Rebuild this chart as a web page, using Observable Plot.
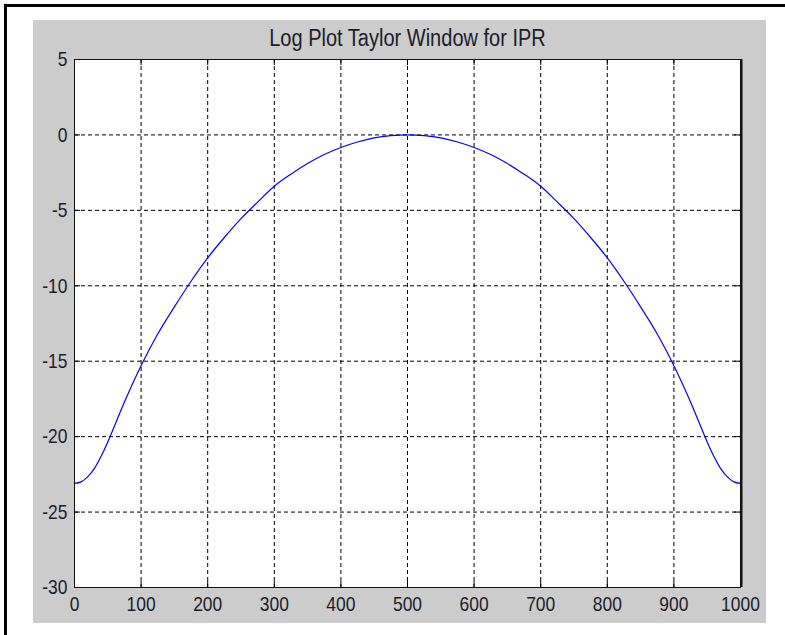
<!DOCTYPE html>
<html><head><meta charset="utf-8">
<script src="https://cdn.jsdelivr.net/npm/d3@7"></script>
<script src="https://cdn.jsdelivr.net/npm/@observablehq/plot@0.6"></script>
<style>
body{margin:0;background:#fff}
#wrap{position:relative;width:785px;height:635px;overflow:hidden;background:#fff}
#edge{position:absolute;left:4px;top:4px;right:0;bottom:0;border-left:3px solid #000;border-top:3px solid #000}
#panel{position:absolute;left:33px;top:20px;width:733px;height:603px;background:#cccccc}
#chart{position:absolute;left:0;top:0}
</style></head><body>
<div id="wrap"><div id="edge"></div><div id="panel"></div><div id="chart"></div></div>
<script>
const title = "Log Plot Taylor Window for IPR";
const xTicks = [0,100,200,300,400,500,600,700,800,900,1000];
const yTicks = [-30,-25,-20,-15,-10,-5,0,5];
const sampleX = [0,10,20,30,40,50,60,75,100,125,150,175,200,225,250,275,300,325,350,375,400,425,450,475,500,
  525,550,575,600,625,650,675,700,725,750,775,800,825,850,875,900,925,940,950,960,970,980,990,1000];
const sampleDb = [-23.1,-23.0,-22.65,-22.1,-21.3,-20.35,-19.3,-17.7,-15.3,-13.2,-11.4,-9.7,-8.15,-6.8,-5.55,-4.45,-3.4,-2.6,-1.9,-1.3,-0.83,-0.47,-0.2,-0.05,0,
  -0.05,-0.2,-0.47,-0.83,-1.3,-1.9,-2.6,-3.4,-4.45,-5.55,-6.8,-8.15,-9.7,-11.4,-13.2,-15.3,-17.7,-19.3,-20.35,-21.3,-22.1,-22.65,-23.0,-23.1];

const W = 785, H = 635, mL = 74, mR = 45, mT = 59, mB = 48;
const innerW = W - mL - mR, innerH = H - mT - mB;
const data = sampleX.map((x, i) => ({x, y: sampleDb[i]}));
const font = "'Liberation Sans', Arial, sans-serif";

const plot = Plot.plot({
  width: W, height: H,
  marginLeft: mL, marginRight: mR, marginTop: mT, marginBottom: mB,
  style: {background: "transparent", fontFamily: font, color: "#1c1c2a", overflow: "visible"},
  x: {domain: [0, 1000], label: null},
  y: {domain: [-30, 5], label: null},
  marks: [
    Plot.frame({fill: "white", stroke: null}),
    Plot.gridX(xTicks, {stroke: "#000", strokeOpacity: 1, strokeDasharray: "4,3"}),
    Plot.gridY(yTicks, {stroke: "#000", strokeOpacity: 1, strokeDasharray: "4,3"}),
    Plot.tickX(xTicks, {x: d => d, insetTop: innerH - 6, stroke: "#000"}),
    Plot.tickX(xTicks, {x: d => d, insetBottom: innerH - 6, stroke: "#000"}),
    Plot.tickY(yTicks, {y: d => d, insetRight: innerW - 6, stroke: "#000"}),
    Plot.tickY(yTicks, {y: d => d, insetLeft: innerW - 6, stroke: "#000"}),
    Plot.line(data, {x: "x", y: "y", stroke: "#0000ff", strokeWidth: 1.2, curve: "catmull-rom"}),
    Plot.frame({stroke: "#111", fill: null}),
    Plot.ruleX([1000], {stroke: "#111", strokeWidth: 2, dx: 1}),
    Plot.axisX(xTicks, {tickSize: 0, tickPadding: 9, fontSize: 21, label: null, tickFormat: d => String(d)}),
    Plot.axisY(yTicks, {tickSize: 0, tickPadding: 7, fontSize: 21, label: null, tickFormat: d => String(d)}),
    Plot.text([title], {frameAnchor: "top", dy: -14, lineAnchor: "bottom", fontSize: 23})
  ]
});
document.getElementById("chart").appendChild(plot);

// condense glyphs horizontally to mimic the narrow face of the original
function squeeze(sel, k) {
  plot.querySelectorAll(sel).forEach(t => {
    const len = t.getComputedTextLength();
    if (len > 0) {
      t.setAttribute("textLength", (len * k).toFixed(2));
      t.setAttribute("lengthAdjust", "spacingAndGlyphs");
    }
  });
}
squeeze('g[aria-label="x-axis tick label"] text', 0.83);
squeeze('g[aria-label="y-axis tick label"] text', 0.83);
squeeze('g[aria-label="text"] text', 0.87);
</script>
</body></html>
